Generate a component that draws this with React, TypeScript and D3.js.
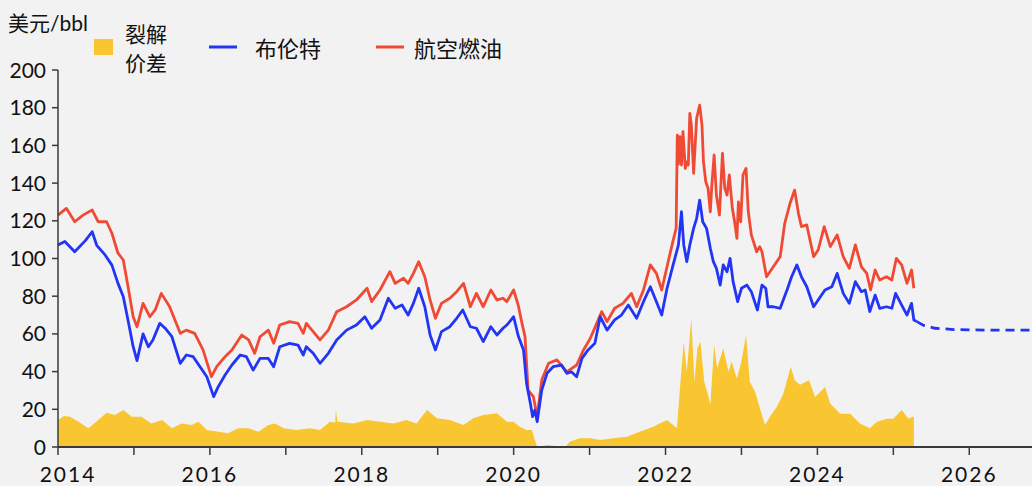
import React from "react";
import * as d3 from "d3";

// ---- Data (decimal year, USD/bbl) ----
const brent: [number, number][] = [
  [2014.00,107.2],[2014.09,109],[2014.22,103.6],[2014.36,109.5],[2014.45,114.2],[2014.51,107],[2014.62,101.9],[2014.71,96.5],[2014.79,86.8],[2014.86,79.7],[2014.93,65.6],[2014.99,53.2],
  [2015.04,45.8],[2015.12,60],[2015.19,53.2],[2015.25,56.8],[2015.34,65.6],[2015.41,63],[2015.50,58.5],[2015.61,44.4],[2015.69,48.8],[2015.78,47.9],[2015.87,42.6],[2015.96,37.3],
  [2016.05,26.7],[2016.11,32],[2016.20,38.2],[2016.29,43.5],[2016.40,48.8],[2016.48,47.9],[2016.57,40.8],[2016.66,47],[2016.77,47],[2016.84,42.6],[2016.92,53.2],
  [2017.05,55],[2017.16,54.1],[2017.23,48.8],[2017.27,53.2],[2017.36,49.7],[2017.45,44.4],[2017.56,49.7],[2017.67,56.8],[2017.80,62],[2017.93,64.7],
  [2018.04,69.1],[2018.13,63],[2018.24,67.4],[2018.35,78.9],[2018.44,73.6],[2018.53,75.3],[2018.61,70],[2018.68,76.2],[2018.75,84.2],[2018.83,74.4],[2018.90,59.4],[2018.97,51.5],
  [2019.05,61.2],[2019.16,63.8],[2019.25,68.3],[2019.33,72.7],[2019.43,63.8],[2019.51,63],[2019.60,55.9],[2019.70,63.8],[2019.78,59.4],[2019.86,63],[2019.91,64.7],
  [2020.00,69.1],[2020.06,59],[2020.13,51.5],[2020.17,33.8],[2020.22,23.2],[2020.25,16.1],[2020.28,19.6],[2020.31,13.4],[2020.37,30.2],[2020.44,39.1],[2020.52,42.6],[2020.63,43.5],[2020.70,39.1],[2020.76,39.9],[2020.83,37.3],[2020.90,47],[2020.98,51.5],
  [2021.07,55],[2021.14,69.1],[2021.23,62],[2021.33,67.4],[2021.42,70],[2021.51,75.3],[2021.62,68.3],[2021.71,77.1],[2021.80,85],[2021.88,77.1],[2021.95,70],
  [2022.02,84.2],[2022.10,96.6],[2022.17,107.2],[2022.21,124.8],[2022.24,107.2],[2022.28,98.3],[2022.32,107.2],[2022.37,116],[2022.41,121.3],[2022.45,131],[2022.49,119.5],[2022.54,116],[2022.59,105.4],[2022.63,98.3],[2022.67,94.8],[2022.72,85.9],[2022.76,96.6],[2022.81,93],[2022.85,100.1],[2022.89,87.7],[2022.95,77.1],
  [2023.00,84.2],[2023.07,85.9],[2023.13,82.4],[2023.21,72.7],[2023.27,85.9],[2023.32,84.2],[2023.35,74.4],[2023.42,74.4],[2023.51,73.6],[2023.60,83.3],[2023.66,90.3],[2023.73,96.6],[2023.79,90.3],[2023.86,85],[2023.95,74.4],
  [2024.01,78],[2024.10,83.3],[2024.19,85],[2024.26,92.1],[2024.34,81.5],[2024.42,76.2],[2024.50,87.7],[2024.58,82.4],[2024.63,83.3],[2024.69,71.8],[2024.76,80.6],[2024.82,73.6],[2024.91,74.4],[2024.98,73.6],
  [2025.03,81.5],[2025.11,75.3],[2025.18,70],[2025.24,76.2],[2025.27,67.4],[2025.31,66.5],
];

const brentForecast: [number, number][] = [
  [2025.31,66.5],[2025.40,64.5],[2025.55,63],[2025.80,62.3],[2026.20,62],[2026.83,62],
];

const jetFuel: [number, number][] = [
  [2014.00,123],[2014.11,126.6],[2014.22,119.5],[2014.33,123],[2014.45,125.7],[2014.53,119.5],[2014.64,119.5],[2014.71,113.4],[2014.79,102.8],[2014.86,99.2],[2014.93,83.3],[2014.99,69.1],
  [2015.04,63.8],[2015.12,76.2],[2015.21,69.1],[2015.28,72.7],[2015.36,81.5],[2015.47,74.4],[2015.61,60.3],[2015.69,62],[2015.80,60.3],[2015.91,51.5],
  [2016.02,37.3],[2016.09,42.6],[2016.20,47.9],[2016.29,51.5],[2016.42,59.4],[2016.51,56.8],[2016.59,49.7],[2016.66,58.5],[2016.77,62],[2016.84,55],[2016.92,64.7],
  [2017.05,66.5],[2017.16,65.6],[2017.23,60.3],[2017.27,65.6],[2017.36,61.2],[2017.45,56.8],[2017.56,62],[2017.67,71.8],[2017.80,74.4],[2017.93,78],
  [2018.07,84.2],[2018.13,77.1],[2018.24,83.3],[2018.37,93],[2018.44,86.8],[2018.55,89.5],[2018.61,86.8],[2018.68,92.1],[2018.75,98.3],[2018.83,90.3],[2018.90,78],[2018.97,68.3],
  [2019.05,76.2],[2019.16,78.9],[2019.25,82.4],[2019.34,86.8],[2019.43,74.4],[2019.51,81.5],[2019.60,74.4],[2019.70,83.3],[2019.78,78],[2019.86,78.9],[2019.91,77.1],
  [2020.00,83.3],[2020.06,75.3],[2020.11,65.6],[2020.15,58.5],[2020.19,30.2],[2020.26,26.7],[2020.31,16.1],[2020.37,35.5],[2020.46,44.4],[2020.57,46.2],[2020.70,39.9],[2020.83,43.5],[2020.92,51.5],
  [2021.01,57.7],[2021.16,71.8],[2021.23,66.5],[2021.33,73.6],[2021.44,76.2],[2021.55,81.5],[2021.62,74.4],[2021.71,83.3],[2021.80,96.6],[2021.88,92.1],[2021.95,83.3],
  [2022.04,99.2],[2022.10,109.5],[2022.14,116],[2022.155,165.5],[2022.17,150],[2022.19,164.6],[2022.21,149.6],[2022.23,167.3],[2022.26,147.8],[2022.28,151.3],[2022.30,149.6],[2022.32,177],[2022.34,170.8],[2022.37,145.2],[2022.41,174.4],[2022.45,181.4],[2022.48,170.8],[2022.50,151.3],[2022.53,140.7],[2022.56,137.2],[2022.59,124.8],[2022.61,139],[2022.64,154.9],[2022.67,133.7],[2022.71,123.1],[2022.75,155.8],[2022.78,137.2],[2022.81,133.7],[2022.84,144.3],[2022.88,126.6],[2022.91,119.5],[2022.94,110.7],[2022.96,130],[2022.99,119.5],
  [2023.02,144.3],[2023.06,147.8],[2023.09,124.8],[2023.13,112.5],[2023.20,103.6],[2023.24,106.3],[2023.27,103.6],[2023.33,90.3],[2023.42,95.6],[2023.51,101],[2023.57,118.7],[2023.64,129.3],[2023.70,136.3],[2023.75,124],[2023.79,116.9],[2023.86,117.8],[2023.95,101],
  [2024.01,104.5],[2024.09,116.9],[2024.17,106.3],[2024.26,112.5],[2024.34,101],[2024.42,94.8],[2024.50,107.2],[2024.58,95.6],[2024.65,92.1],[2024.70,83.3],[2024.76,93.9],[2024.82,88.6],[2024.91,90.3],[2024.98,88.6],
  [2025.04,100.1],[2025.11,96.6],[2025.18,86.8],[2025.24,93.9],[2025.27,84.2],
];

const crackSpread: [number, number][] = [
  [2014.00,14.3],[2014.08,16.5],[2014.16,16],[2014.27,13.4],[2014.40,9.9],[2014.53,14.3],[2014.64,18.2],[2014.75,17],[2014.86,19.6],[2014.97,16],
  [2015.10,16],[2015.23,12.5],[2015.37,14.3],[2015.50,9.9],[2015.63,12.5],[2015.76,11.7],[2015.85,13.4],[2015.96,9],
  [2016.11,8.1],[2016.24,7.3],[2016.37,9.9],[2016.51,9.9],[2016.64,8.1],[2016.77,11.7],[2016.86,12.5],[2016.97,10],
  [2017.14,9],[2017.32,9.9],[2017.45,9],[2017.58,13.4],[2017.65,13],[2017.66,19.6],[2017.68,13.4],[2017.89,12.5],
  [2018.07,14.3],[2018.24,13.4],[2018.42,12.5],[2018.59,14.3],[2018.72,12.5],[2018.86,19.6],[2018.99,15.2],
  [2019.16,14.3],[2019.34,11.7],[2019.47,15.2],[2019.60,17],[2019.78,17.9],[2019.91,13.4],
  [2020.00,13.4],[2020.08,10.8],[2020.17,9],[2020.24,9],[2020.28,3.7],[2020.31,0],[2020.45,1],[2020.55,0.5],[2020.68,0],[2020.74,2.8],[2020.87,4.6],
  [2021.01,4.6],[2021.14,3.7],[2021.31,4.6],[2021.49,5.5],[2021.66,8.1],[2021.84,10.8],[2021.97,13.4],
  [2022.02,14.3],[2022.10,11.7],[2022.15,9.9],[2022.19,31.1],[2022.24,55.9],[2022.28,39.9],[2022.34,68.3],[2022.38,34.6],[2022.42,52.4],[2022.46,55.9],[2022.51,34.6],[2022.56,27.6],[2022.59,22.3],[2022.64,54.1],[2022.68,41.8],[2022.76,52.4],[2022.83,39.9],[2022.87,45.3],[2022.94,36.3],
  [2023.00,45.3],[2023.06,59.4],[2023.11,34.6],[2023.18,29.3],[2023.24,21],[2023.31,11.7],[2023.38,16.5],[2023.46,21],[2023.55,28],[2023.60,35.4],[2023.65,42.6],[2023.70,35.4],[2023.77,33],[2023.89,35.4],[2023.97,26.5],
  [2024.10,31.8],[2024.17,23],[2024.30,17.7],[2024.43,17.7],[2024.56,12.5],[2024.69,9.9],[2024.78,13.3],[2024.91,15],
  [2025.00,15],[2025.11,19.6],[2025.20,15],[2025.25,16],[2025.27,16],
];

const yTicks = [0, 20, 40, 60, 80, 100, 120, 140, 160, 180, 200];
const xTickYears = [2014, 2015, 2016, 2017, 2018, 2019, 2020, 2021, 2022, 2023, 2024, 2025, 2026];
const xLabelYears = [2014, 2016, 2018, 2020, 2022, 2024, 2026];

const unitLabel = "美元/bbl";
const legendCrack = ["裂解", "价差"];
const legendBrent = "布伦特";
const legendJet = "航空燃油";

// ---- Styles ----
const W = 1032;
const H = 486;
const COL_BG = "#f2f2f2";
const COL_YELLOW = "#f9c631";
const COL_BLUE = "#2235f5";
const COL_RED = "#f04a35";
const COL_AXIS = "#3a3a3a";
const FONT = "Lato, 'Noto Sans CJK SC', sans-serif";
const CJK = "'Noto Sans CJK SC', sans-serif";

export default function App() {
  const x = d3.scaleLinear().domain([2014, 2014 + (W - 58) / 75.94]).range([58, W]);
  const y = d3.scaleLinear().domain([0, 200]).range([447, 70]);

  const line = d3
    .line<[number, number]>()
    .x((d) => x(d[0]))
    .y((d) => y(d[1]));
  const area = d3
    .area<[number, number]>()
    .x((d) => x(d[0]))
    .y0(y(0))
    .y1((d) => y(d[1]));

  return (
    <svg
      width={W}
      height={H}
      style={{ position: "absolute", left: 0, top: 0, display: "block" }}
    >
      <rect x={0} y={0} width={W} height={H} fill={COL_BG} />

      {/* crack spread area */}
      <path d={area(crackSpread) || ""} fill={COL_YELLOW} stroke="none" />

      {/* lines */}
      <path d={line(jetFuel) || ""} fill="none" stroke={COL_RED} strokeWidth={2.8} strokeLinejoin="round" />
      <path d={line(brent) || ""} fill="none" stroke={COL_BLUE} strokeWidth={2.8} strokeLinejoin="round" />
      <path d={line(brentForecast) || ""} fill="none" stroke={COL_BLUE} strokeWidth={2.8} strokeDasharray="9 6" />

      {/* y axis */}
      <line x1={x(2014)} x2={x(2014)} y1={y(200)} y2={y(0)} stroke={COL_AXIS} strokeWidth={1.5} />
      {yTicks.map((t) => (
        <g key={"y" + t}>
          <line x1={x(2014) - 6} x2={x(2014)} y1={y(t)} y2={y(t)} stroke={COL_AXIS} strokeWidth={1.5} />
          <text x={46} y={y(t) + 7.5} textAnchor="end" fontFamily={FONT} fontSize={21} fill="#111">
            {t}
          </text>
        </g>
      ))}

      {/* x axis */}
      <line x1={x(2014)} x2={W} y1={y(0)} y2={y(0)} stroke={COL_AXIS} strokeWidth={2} />
      {xTickYears.map((t) => (
        <line key={"xt" + t} x1={x(t)} x2={x(t)} y1={y(0)} y2={y(0) + 8} stroke={COL_AXIS} strokeWidth={1.5} />
      ))}
      {xLabelYears.map((t) => (
        <text
          key={"xl" + t}
          x={t === 2014 ? x(t) + 10 : x(t)}
          y={482}
          textAnchor="middle"
          fontFamily={FONT}
          fontSize={21}
          letterSpacing={2}
          fill="#111"
        >
          {t}
        </text>
      ))}

      {/* unit label */}
      <text x={8} y={31} fontFamily={FONT} fontSize={21} fill="#111">
        <tspan fontFamily={CJK}>{unitLabel.slice(0, 2)}</tspan>
        <tspan>{unitLabel.slice(2)}</tspan>
      </text>

      {/* legend */}
      <rect x={94} y={39} width={19} height={16} fill={COL_YELLOW} />
      <text x={125} y={42} fontFamily={CJK} fontSize={21} fill="#111">
        {legendCrack[0]}
      </text>
      <text x={125} y={71} fontFamily={CJK} fontSize={21} fill="#111">
        {legendCrack[1]}
      </text>

      <line x1={209} x2={237} y1={47} y2={47} stroke={COL_BLUE} strokeWidth={3} />
      <text x={255} y={57} fontFamily={CJK} fontSize={22} fill="#111">
        {legendBrent}
      </text>

      <line x1={376} x2={404} y1={47} y2={47} stroke={COL_RED} strokeWidth={3} />
      <text x={414} y={57} fontFamily={CJK} fontSize={22} fill="#111">
        {legendJet}
      </text>
    </svg>
  );
}
